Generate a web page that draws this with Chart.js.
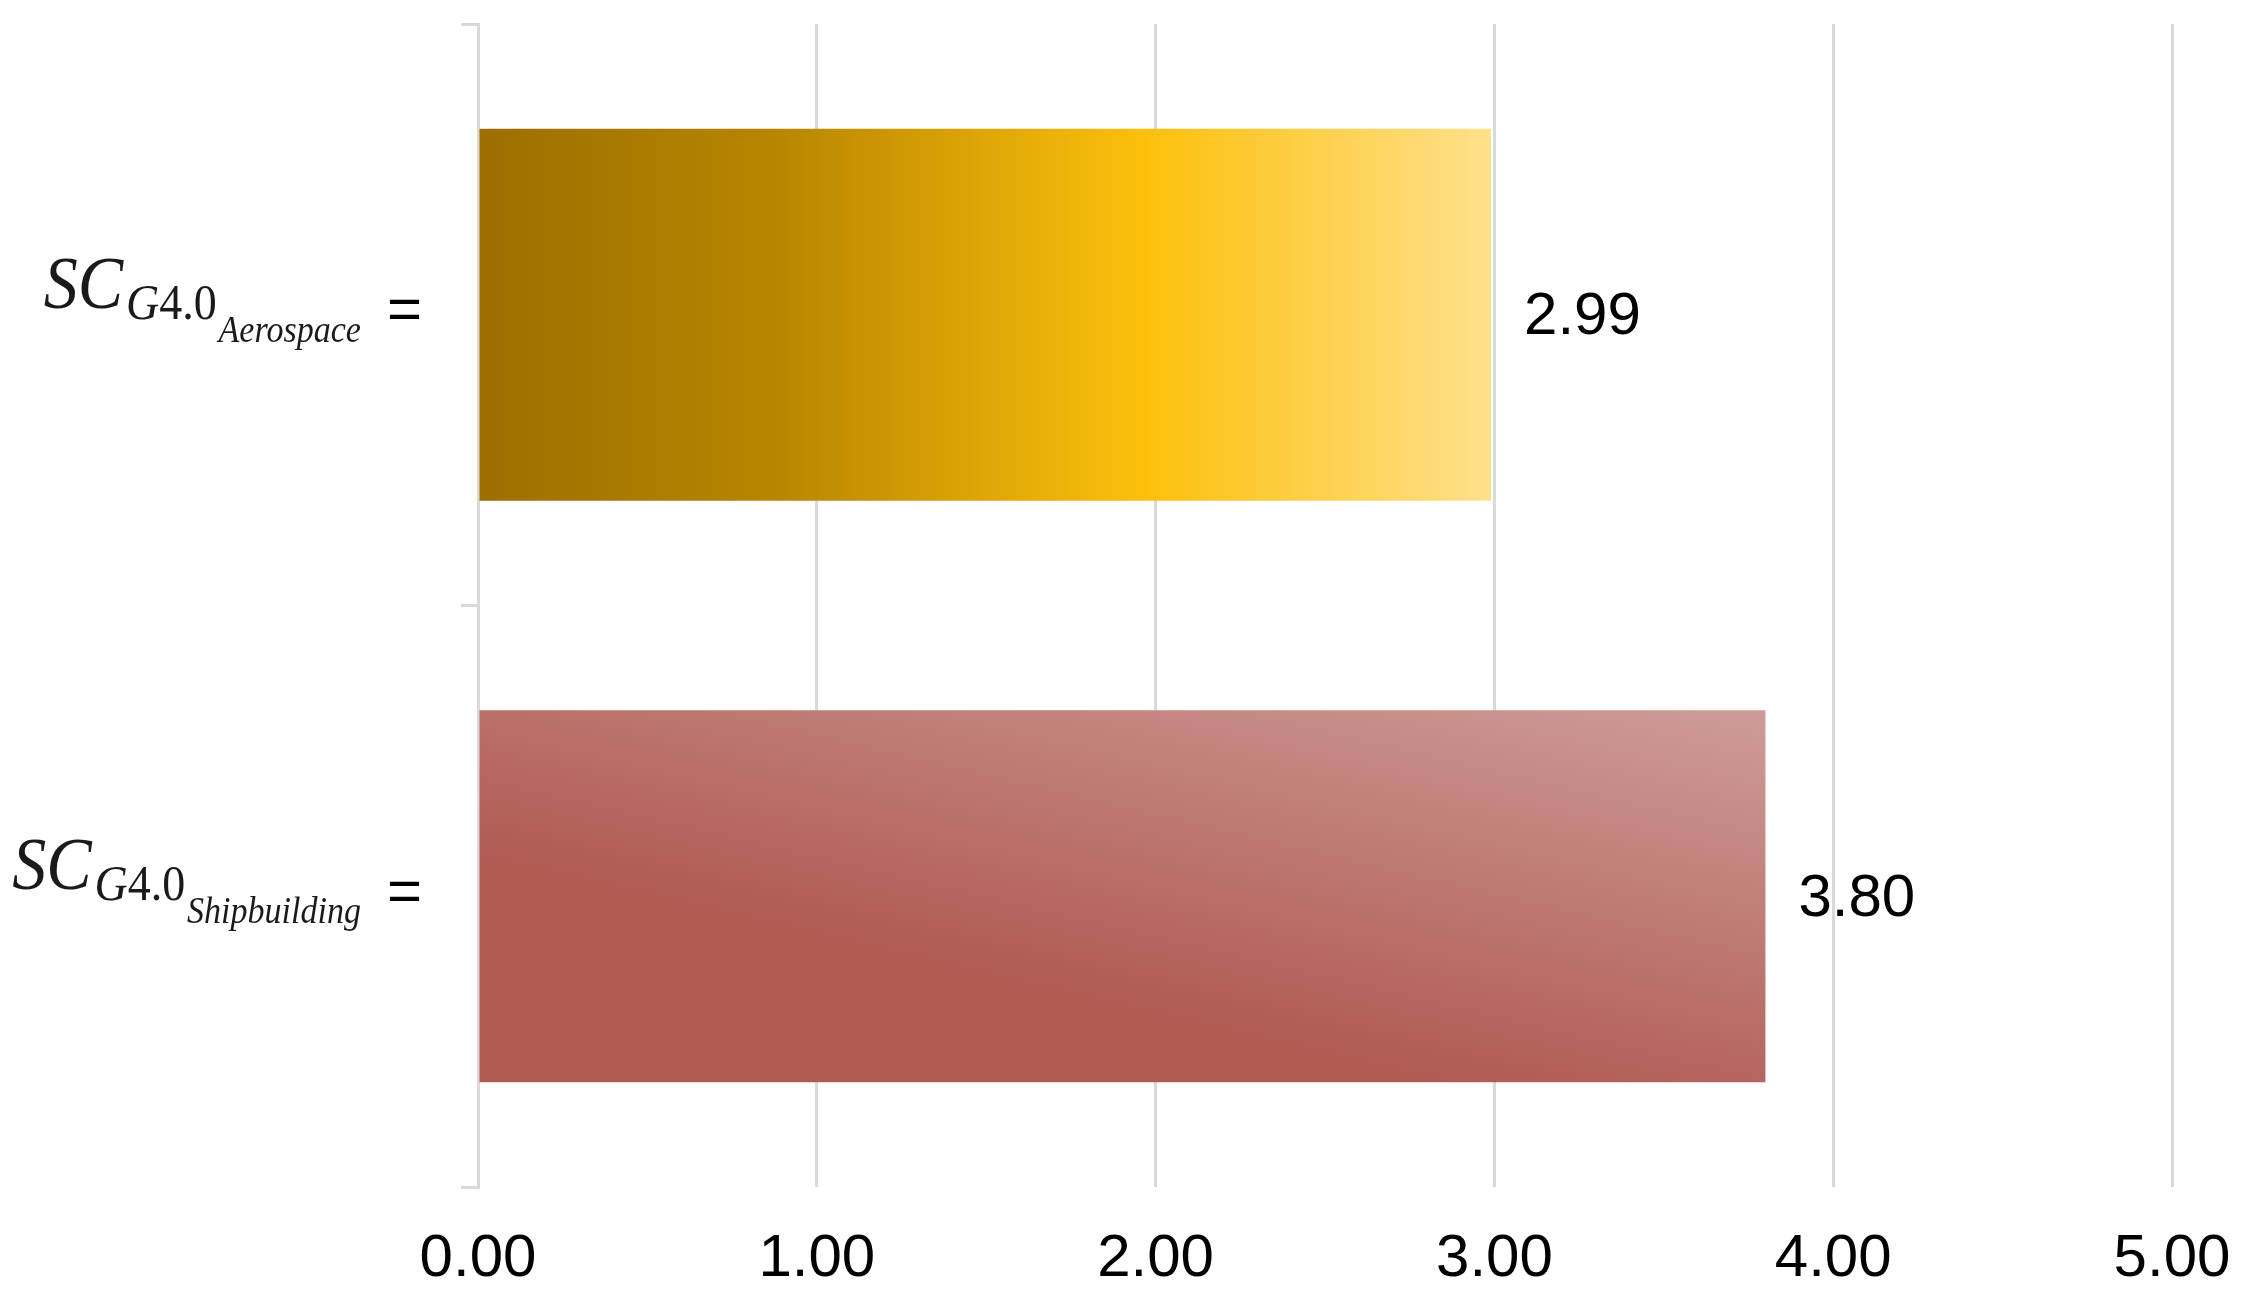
<!DOCTYPE html>
<html>
<head>
<meta charset="utf-8">
<title>SC G4.0 by sector</title>
<script src="https://cdn.jsdelivr.net/npm/chart.js@4.4.0/dist/chart.umd.min.js"></script>
<style>
  html, body { margin: 0; padding: 0; background: #fff; }
  canvas { display: block; }
</style>
</head>
<body>
<canvas id="chart" width="2250" height="1297"></canvas>
<script>
// Data
const sectors = ["Aerospace", "Shipbuilding"];
const scores = [2.99, 3.8];
const xTicks = [0, 1, 2, 3, 4, 5];

const gridColor = "#d9d9d9";
const sansFont = '"Liberation Sans", Arial, sans-serif';
const serifFont = '"Liberation Serif", "Times New Roman", serif';
const barShare = 0.8 * 0.8; // categoryPercentage * barPercentage

// Gradient fill built from the bar's own box
function barFill(context) {
  const { ctx, chartArea, scales } = context.chart;
  if (!chartArea) return "#c99500";
  const i = context.dataIndex;
  const x0 = scales.x.getPixelForValue(0);
  const x1 = scales.x.getPixelForValue(scores[i]);
  const h = (chartArea.bottom - chartArea.top) / sectors.length * barShare;
  const yc = scales.y.getPixelForValue(i);
  const yTop = yc - h / 2;
  const yBot = yc + h / 2;
  const w = x1 - x0;

  if (i === 0) {
    const g = ctx.createLinearGradient(x0, 0, x1, 0);
    g.addColorStop(0, "#9b6f00");
    g.addColorStop(0.3, "#b98600");
    g.addColorStop(0.66, "#fcc00c");
    g.addColorStop(1, "#ffe08c");
    return g;
  }

  // dark band along a slanted line, getting lighter towards the top right
  const ax = x0, ay = yTop + 0.4 * h;
  const bx = x0 + 0.74 * w, by = yBot;
  const len = Math.hypot(bx - ax, by - ay);
  const ux = (bx - ax) / len, uy = (by - ay) / len;
  const nx = uy, ny = -ux;
  const d = (x1 - ax) * nx + (yTop - ay) * ny;
  const g = ctx.createLinearGradient(ax, ay, ax + d * nx, ay + d * ny);
  g.addColorStop(0, "#b05a52");
  g.addColorStop(1, "#ce9c98");
  return g;
}

// Value labels at the bar ends
const valueLabels = {
  id: "valueLabels",
  afterDatasetsDraw(chart) {
    const { ctx } = chart;
    const meta = chart.getDatasetMeta(0);
    ctx.save();
    ctx.font = `60px ${sansFont}`;
    ctx.fillStyle = "#000";
    ctx.textAlign = "left";
    ctx.textBaseline = "middle";
    meta.data.forEach((bar, i) => {
      ctx.fillText(scores[i].toFixed(2), bar.x + 33, bar.y + 3);
    });
    ctx.restore();
  },
};

// Category labels written as SC_{G4.0_{sector}} =
const sciLabels = {
  id: "sciLabels",
  afterDraw(chart) {
    const { ctx, chartArea, scales } = chart;
    const squeeze = 0.92; // math font is narrower than Liberation Serif
    ctx.save();
    ctx.fillStyle = "#1a1a1a";
    ctx.textAlign = "left";
    sectors.forEach((name, i) => {
      const c = scales.y.getPixelForValue(i);

      ctx.font = `60px ${sansFont}`;
      const wEq = ctx.measureText("=").width;
      const eqX = chartArea.left - 56 - wEq;
      ctx.fillStyle = "#000";
      ctx.textBaseline = "middle";
      ctx.fillText("=", eqX, c - 2);

      ctx.font = `italic 37px ${serifFont}`;
      const wSub = ctx.measureText(name).width;
      ctx.font = `50px ${serifFont}`;
      const w40 = ctx.measureText("4.0").width;
      ctx.font = `italic 50px ${serifFont}`;
      const wG = ctx.measureText("G").width;
      ctx.font = `italic 74px ${serifFont}`;
      const wSC = ctx.measureText("SC").width;
      const total = wSC + 3 + wG + w40 + 2 + wSub;
      const right = eqX - 26;

      ctx.save();
      ctx.translate(right - total * squeeze, 0);
      ctx.scale(squeeze, 1);
      ctx.fillStyle = "#1a1a1a";
      ctx.textBaseline = "alphabetic";
      let x = 0;
      ctx.font = `italic 74px ${serifFont}`;
      ctx.fillText("SC", x, c - 7);
      x += wSC + 3;
      ctx.font = `italic 50px ${serifFont}`;
      ctx.fillText("G", x, c + 4);
      x += wG;
      ctx.font = `50px ${serifFont}`;
      ctx.fillText("4.0", x, c + 4);
      x += w40 + 2;
      ctx.font = `italic 37px ${serifFont}`;
      ctx.fillText(name, x, c + 27);
      ctx.restore();
    });
    ctx.restore();
  },
};

const ctx = document.getElementById("chart").getContext("2d");
const chart = new Chart(ctx, {
  type: "bar",
  data: {
    labels: sectors,
    datasets: [
      {
        data: scores,
        backgroundColor: barFill,
        borderWidth: 0,
        categoryPercentage: 0.8,
        barPercentage: 0.8,
      },
    ],
  },
  options: {
    indexAxis: "y",
    responsive: false,
    animation: false,
    devicePixelRatio: 1,
    layout: { padding: { top: 24, right: 78, left: 0, bottom: 0 } },
    plugins: {
      legend: { display: false },
      tooltip: { enabled: false },
    },
    scales: {
      x: {
        type: "linear",
        min: xTicks[0],
        max: xTicks[xTicks.length - 1],
        afterBuildTicks: (scale) => {
          scale.ticks = xTicks.map((v) => ({ value: v }));
        },
        afterFit: (scale) => {
          scale.height = 110;
          scale.paddingLeft = 0;
          scale.paddingRight = 0;
        },
        ticks: {
          padding: 36,
          color: "#000",
          font: { family: sansFont, size: 60 },
          callback: (v) => Number(v).toFixed(2),
        },
        grid: {
          color: gridColor,
          lineWidth: 3,
          drawTicks: false,
        },
        border: { display: false },
      },
      y: {
        type: "category",
        offset: true,
        afterFit: (scale) => {
          scale.width = 478;
        },
        ticks: { display: false },
        grid: {
          offset: true,
          drawOnChartArea: false,
          drawTicks: true,
          tickLength: 17,
          color: gridColor,
          lineWidth: 3,
        },
        border: { display: true, color: gridColor, width: 3 },
      },
    },
  },
  plugins: [valueLabels, sciLabels],
});
</script>
</body>
</html>
